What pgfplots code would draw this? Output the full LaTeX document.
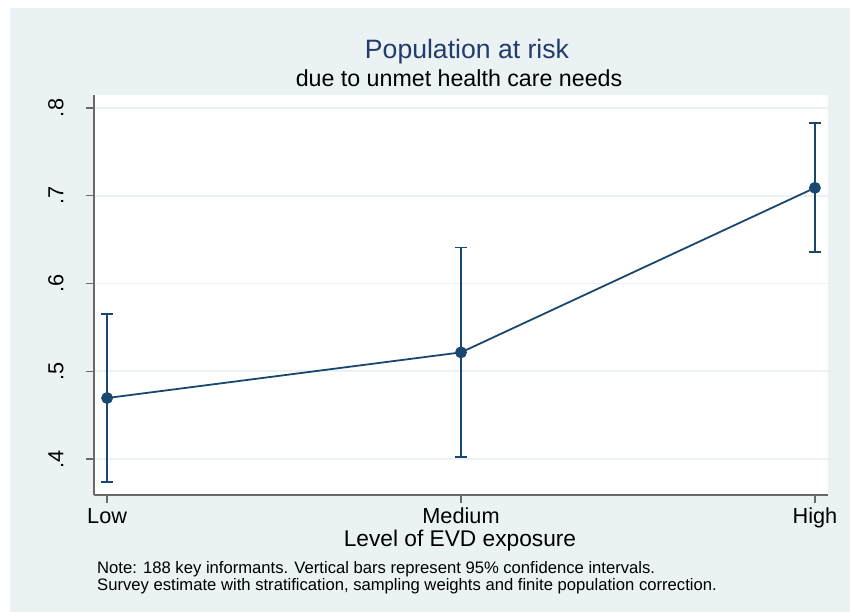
\documentclass[border=0pt]{standalone}
\usepackage{fontspec}
\setmainfont{Liberation Sans}
\usepackage{pgfplots}
\pgfplotsset{compat=1.18}

\definecolor{bgc}{HTML}{EAF2F3}
\definecolor{navy}{HTML}{1A476F}
\definecolor{titlec}{HTML}{253C6B}
\definecolor{axc}{HTML}{6A6A6A}

\begin{document}
\begin{tikzpicture}[x=1bp,y=1bp]
\useasboundingbox (0,0) rectangle (853,612);
\fill[white] (0,0) rectangle (853,612);
\fill[bgc] (10,0) rectangle (850,604);

% titles and note (y = 612 - pixel row)
\node[anchor=base, text=titlec, font=\fontsize{26.7}{30}\selectfont] at (467,553) {Population at risk};
\node[anchor=base, font=\fontsize{23.3}{26}\selectfont] at (459,525) {due to unmet health care needs};
\node[anchor=base, font=\fontsize{22.8}{26}\selectfont] at (460,65) {Level of EVD exposure};
\node[anchor=base west, inner sep=0, font=\fontsize{16.7}{19}\selectfont] at (97,38) {Note: 188 key informants. Vertical bars represent 95\% confidence intervals.};
\node[anchor=base west, inner sep=0, font=\fontsize{16.7}{19}\selectfont] at (97,21) {Survey estimate with stratification, sampling weights and finite population correction.};

\begin{axis}[
    at={(94bp,117bp)}, anchor=south west,
    width=734bp, height=400bp, scale only axis,
    xmin=-0.037, xmax=2.037,
    ymin=0.359, ymax=0.8148,
    axis background/.style={fill=white},
    axis x line*=bottom, axis y line*=left,
    axis line style={-, draw=axc, line width=1.3bp},
    xtick={0,1,2}, xticklabels={Low,Medium,High},
    ytick={0.4,0.5,0.6,0.7,0.8}, yticklabels={.4,.5,.6,.7,.8},
    tick align=outside, major tick length=8bp,
    tick style={draw=axc, line width=1.3bp},
    ymajorgrids, grid style={draw=bgc, line width=1.6bp},
    ticklabel style={font=\fontsize{21.8}{24}\selectfont},
    yticklabel style={rotate=90, anchor=south, yshift=19bp},
    xticklabel style={anchor=base, yshift=-21bp},
    clip=false,
]
\addplot[navy, line width=1.8bp, mark=*, mark size=5bp,
    error bars/.cd, y dir=both, y explicit,
    error bar style={line width=1.8bp, navy},
    error mark options={rotate=90, mark size=6bp, line width=1.8bp, navy}]
coordinates {
    (0, 0.4695) +- (0, 0.0960)
    (1, 0.5215) +- (0, 0.1195)
    (2, 0.7090) +- (0, 0.0735)
};
\end{axis}
\end{tikzpicture}
\end{document}
